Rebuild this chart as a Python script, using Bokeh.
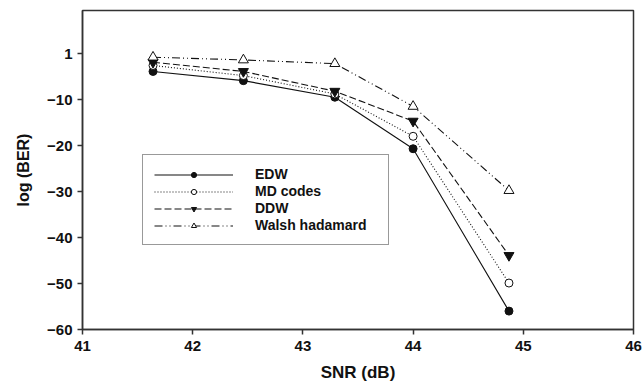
from bokeh.plotting import figure
from bokeh.models import Range1d, FixedTicker, Legend, LegendItem
from bokeh.embed import file_html
from bokeh.resources import INLINE

snr = [41.64, 42.46, 43.29, 44.0, 44.87]
edw = [-3.9, -5.9, -9.5, -20.7, -56.0]
md_codes = [-2.6, -4.8, -8.8, -18.0, -49.9]
ddw = [-1.9, -3.9, -8.2, -14.7, -43.9]
walsh = [-0.8, -1.4, -2.2, -11.5, -29.8]

x_ticks = [41, 42, 43, 44, 45, 46]
y_ticks = [0, -10, -20, -30, -40, -50, -60]
y_tick_labels = ["1", "\u221210", "\u221220", "\u221230", "\u221240", "\u221250", "\u221260"]

FONT = "Liberation Sans"

p = figure(width=642, height=385, output_backend="svg", toolbar_location=None,
           x_range=Range1d(41, 46), y_range=Range1d(-60, 9.35))
p.min_border_left = 82
p.min_border_right = 9
p.min_border_top = 10
p.min_border_bottom = 56
p.xgrid.visible = False
p.ygrid.visible = False
p.outline_line_color = "#333333"
p.outline_line_width = 1.5
p.background_fill_color = "white"
p.border_fill_color = "white"

for ax in (p.xaxis[0], p.yaxis[0]):
    ax.axis_line_color = "#333333"
    ax.axis_line_width = 1.5
    ax.major_tick_line_color = "#333333"
    ax.major_tick_line_width = 1.5
    ax.major_tick_in = 0
    ax.major_tick_out = 5
    ax.minor_tick_line_color = None
    ax.major_label_text_font = FONT
    ax.major_label_text_font_style = "bold"
    ax.major_label_text_font_size = "15px"
    ax.major_label_text_color = "#111111"
    ax.axis_label_text_font = FONT
    ax.axis_label_text_font_style = "bold"
    ax.axis_label_text_color = "#111111"

p.xaxis.axis_label_text_font_size = "17px"
p.yaxis.axis_label_text_font_size = "16px"
p.xaxis.ticker = FixedTicker(ticks=x_ticks)
p.yaxis.ticker = FixedTicker(ticks=y_ticks)
p.yaxis.major_label_overrides = {t: l for t, l in zip(y_ticks, y_tick_labels)}
p.xaxis.axis_label = "SNR (dB)"
p.yaxis.axis_label = "log (BER)"
p.xaxis.axis_label_standoff = 9
p.yaxis.axis_label_standoff = 12
p.xaxis.major_label_standoff = 6
p.yaxis.major_label_standoff = 5

lc = "#111111"
r1 = p.line(snr, edw, line_color=lc, line_width=1.1)
m1 = p.scatter(snr, edw, marker="circle", size=8, fill_color=lc, line_color=lc)
r2 = p.line(snr, md_codes, line_color=lc, line_width=1.1, line_dash="1 2")
m2 = p.scatter(snr, md_codes, marker="circle", size=8, fill_color="white", line_color=lc)
r3 = p.line(snr, ddw, line_color=lc, line_width=1.1, line_dash="7 3")
m3 = p.scatter(snr, ddw, marker="inverted_triangle", size=10, fill_color=lc, line_color=lc)
r4 = p.line(snr, walsh, line_color=lc, line_width=1.1, line_dash="8 3 1 3 1 3")
m4 = p.scatter(snr, walsh, marker="triangle", size=10, fill_color="white", line_color=lc)

legend = Legend(items=[
    LegendItem(label="EDW", renderers=[r1, m1]),
    LegendItem(label="MD codes", renderers=[r2, m2]),
    LegendItem(label="DDW", renderers=[r3, m3]),
    LegendItem(label="Walsh hadamard", renderers=[r4, m4]),
], location=(60, 84))
legend.glyph_width = 79
legend.glyph_height = 13
legend.label_height = 13
legend.spacing = 1
legend.padding = 11
legend.margin = 0
legend.label_standoff = 22
legend.label_width = 122
legend.label_text_font = FONT
legend.label_text_font_style = "bold"
legend.label_text_font_size = "14px"
legend.label_text_color = "#111111"
legend.border_line_color = "#333333"
legend.border_line_width = 1.5
legend.background_fill_alpha = 1.0
p.add_layout(legend, "center")

open("out.html", "w").write(file_html(p, INLINE))
